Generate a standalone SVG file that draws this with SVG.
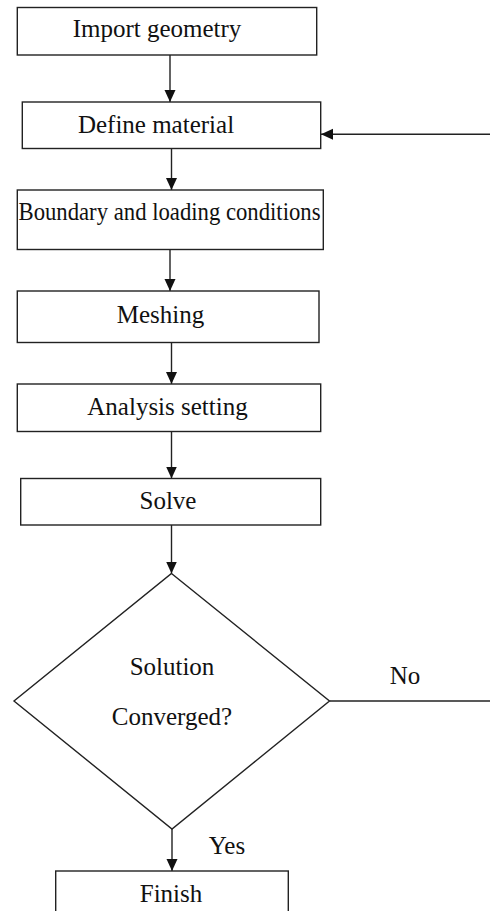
<svg xmlns="http://www.w3.org/2000/svg" width="490" height="911" viewBox="0 0 490 911">
  <style>
    .box { fill: #fff; stroke: #222; stroke-width: 1.4; }
    .lbl { font-family: "Liberation Serif", "Times New Roman", serif; font-size: 25px; fill: #111; text-anchor: middle; }
    .edge { fill: none; stroke: #222; stroke-width: 1.4; }
    .arrow { marker-end: url(#head); }
  </style>
  <defs>
    <marker id="head" markerUnits="userSpaceOnUse" markerWidth="12" markerHeight="14" viewBox="0 0 12 14" refX="12" refY="5.5" orient="auto">
      <path d="M0,0 L12,5.5 L0,11 Z" fill="#111"/>
    </marker>
  </defs>
  <rect width="490" height="911" fill="#fff"/>

  <g id="connectors">
    <line class="edge arrow" x1="170" y1="55" x2="170" y2="102"/>
    <line class="edge arrow" x1="171.5" y1="148.5" x2="171.5" y2="190"/>
    <line class="edge arrow" x1="170" y1="249.5" x2="170" y2="291"/>
    <line class="edge arrow" x1="171.5" y1="342.5" x2="171.5" y2="384"/>
    <line class="edge arrow" x1="171.5" y1="431.5" x2="171.5" y2="478.5"/>
    <line class="edge arrow" x1="171.5" y1="525" x2="171.5" y2="573.5"/>
    <line class="edge arrow" x1="172" y1="829" x2="172" y2="871"/>
    <!-- "No" branch running off to the right and back into Define material -->
    <line class="edge" x1="329.5" y1="701" x2="490" y2="701"/>
    <line class="edge arrow" x1="490" y1="134.3" x2="321" y2="134.3"/>
    <text class="lbl" x="405" y="684">No</text>
    <text class="lbl" x="227" y="854">Yes</text>
  </g>

  <g id="import-geometry">
    <rect class="box" x="17.3" y="7.5" width="299.4" height="47.5"/>
    <text class="lbl" x="157" y="37">Import geometry</text>
  </g>

  <g id="define-material">
    <rect class="box" x="22.3" y="102" width="298.4" height="46.5"/>
    <text class="lbl" x="156" y="133">Define material</text>
  </g>

  <g id="boundary-conditions">
    <rect class="box" x="17.3" y="190" width="306" height="59.5"/>
    <text class="lbl" x="169.5" y="220" textLength="302" lengthAdjust="spacingAndGlyphs">Boundary and loading conditions</text>
  </g>

  <g id="meshing">
    <rect class="box" x="17.3" y="291" width="301.7" height="51.5"/>
    <text class="lbl" x="160.5" y="322.5">Meshing</text>
  </g>

  <g id="analysis-setting">
    <rect class="box" x="17.3" y="384" width="303.4" height="47.5"/>
    <text class="lbl" x="167.5" y="415">Analysis setting</text>
  </g>

  <g id="solve">
    <rect class="box" x="20.7" y="478.5" width="300" height="46.5"/>
    <text class="lbl" x="168" y="509">Solve</text>
  </g>

  <g id="converged">
    <polygon class="box" points="171.5,573.5 329.5,701 172,829 14,701"/>
    <text class="lbl" x="172" y="675">Solution</text>
    <text class="lbl" x="172" y="725">Converged?</text>
  </g>

  <g id="finish">
    <rect class="box" x="55.7" y="871" width="232.6" height="60"/>
    <text class="lbl" x="171" y="902">Finish</text>
  </g>
</svg>
